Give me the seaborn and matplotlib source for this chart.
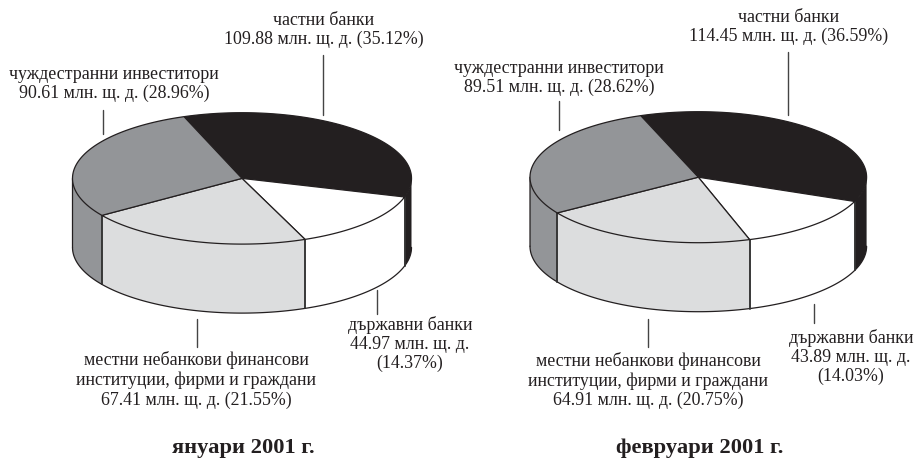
import numpy as np
import matplotlib
matplotlib.use('Agg')
import matplotlib.pyplot as plt
from matplotlib.patches import Polygon
import seaborn as sns

# values in млн. щ. д., clockwise from the top
jan_values = [109.88, 44.97, 67.41, 90.61]
jan_shares = [35.12, 14.37, 21.55, 28.96]
feb_values = [114.45, 43.89, 64.91, 89.51]
feb_shares = [36.59, 14.03, 20.75, 28.62]
slice_colors = ['#231f20', '#ffffff', '#dcddde', '#939598']
jan_title = 'януари 2001 г.'
feb_title = 'февруари 2001 г.'

sns.set_theme(style='white')
plt.rcParams['font.family'] = ['Liberation Serif', 'DejaVu Serif']

START_ANGLE = 110
EDGE = '#231f20'


def arc_points(cx, cy, rx, ry, a0, a1, dy=0):
    t = np.radians(np.linspace(a0, a1, 100))
    return np.column_stack([cx + rx * np.cos(t), cy - ry * np.sin(t) + dy])


def draw_pie(ax, cx, cy, rx, ry, depth, shares):
    spans = np.array(shares) / sum(shares) * 360
    ends = START_ANGLE - np.cumsum(spans)
    starts = ends + spans

    # side wall: only the front half of the rim is visible
    for a0, a1, col in zip(starts, ends, slice_colors):
        lo = max(a1, -180)
        hi = min(a0, 0)
        if hi <= lo:
            continue
        top = arc_points(cx, cy, rx, ry, hi, lo)
        bottom = arc_points(cx, cy, rx, ry, lo, hi, depth)
        ax.add_patch(Polygon(np.vstack([top, bottom]), closed=True, fc=col, ec='none', zorder=1))
        ax.plot(bottom[:, 0], bottom[:, 1], color=EDGE, lw=0.9, zorder=2)
        for a in (lo, hi):
            if a not in (-180, 0):
                p = arc_points(cx, cy, rx, ry, a, a)[0]
                ax.plot([p[0], p[0]], [p[1], p[1] + depth], color='#333333', lw=1.1, zorder=2)

    # left outer edge of the wall (the right one is already black)
    p = arc_points(cx, cy, rx, ry, -180, -180)[0]
    ax.plot([p[0], p[0]], [p[1], p[1] + depth], color=EDGE, lw=0.9, zorder=2, snap=False)

    # top face
    for a0, a1, col in zip(starts, ends, slice_colors):
        rim = arc_points(cx, cy, rx, ry, a0, a1)
        ax.add_patch(Polygon(np.vstack([[cx, cy], rim]), closed=True, fc=col, ec=EDGE, lw=0.9, zorder=3))


jan_labels = [
    (324, 30, 'частни банки\n{:.2f} млн. щ. д. ({:.2f}%)'.format(jan_values[0], jan_shares[0])),
    (114, 84, 'чуждестранни инвеститори\n{:.2f} млн. щ. д. ({:.2f}%)'.format(jan_values[3], jan_shares[3])),
    (196, 380, 'местни небанкови финансови\nинституции, фирми и граждани\n{:.2f} млн. щ. д. ({:.2f}%)'.format(jan_values[2], jan_shares[2])),
    (410, 344, 'държавни банки\n{:.2f} млн. щ. д.\n({:.2f}%)'.format(jan_values[1], jan_shares[1])),
]
feb_labels = [
    (788.5, 27, 'частни банки\n{:.2f} млн. щ. д. ({:.2f}%)'.format(feb_values[0], feb_shares[0])),
    (559, 78, 'чуждестранни инвеститори\n{:.2f} млн. щ. д. ({:.2f}%)'.format(feb_values[3], feb_shares[3])),
    (648, 380.5, 'местни небанкови финансови\nинституции, фирми и граждани\n{:.2f} млн. щ. д. ({:.2f}%)'.format(feb_values[2], feb_shares[2])),
    (851, 357, 'държавни банки\n{:.2f} млн. щ. д.\n({:.2f}%)'.format(feb_values[1], feb_shares[1])),
]
leaders = [
    (323, 55, 115), (103, 110, 134), (377, 290, 314), (197, 319, 347),
    (788, 52, 115), (559, 101, 130), (814, 304, 323), (648, 319, 347),
]

fig, ax = plt.subplots(figsize=(9.17, 4.59), dpi=100)
ax.set_position([0, 0, 1, 1])
ax.set_xlim(0, 917)
ax.set_ylim(459, 0)
ax.axis('off')

draw_pie(ax, 242, 178.4, 169.5, 65.7, 69, jan_shares)
draw_pie(ax, 698.3, 177.2, 168.3, 65.5, 69, feb_shares)

for x, y0, y1 in leaders:
    ax.plot([x, x], [y0, y1], color='#444444', lw=1.0, zorder=4)

for x, y, s in jan_labels + feb_labels:
    ax.text(x, y, s, ha='center', va='center', fontsize=12.9, color='#231f20', linespacing=1.16)

ax.text(243.5, 448, jan_title, ha='center', va='center', fontsize=16.2, fontweight='bold', color='#231f20')
ax.text(700, 448, feb_title, ha='center', va='center', fontsize=16.2, fontweight='bold', color='#231f20')

fig.savefig('out.png', dpi=100)
